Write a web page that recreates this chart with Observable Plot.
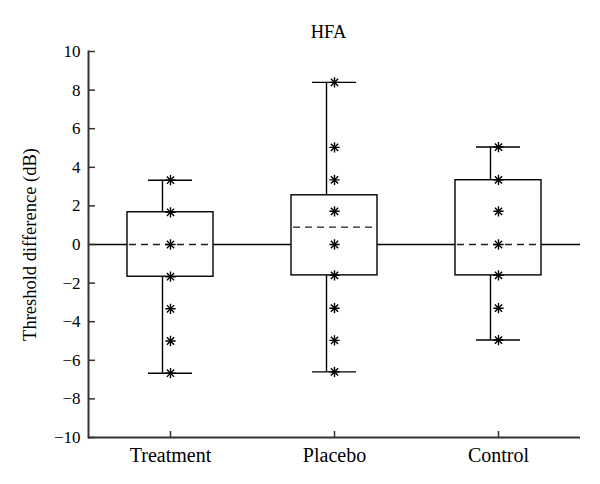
<!DOCTYPE html>
<html><head><meta charset="utf-8">
<script src="https://cdn.jsdelivr.net/npm/d3@7"></script>
<script src="https://cdn.jsdelivr.net/npm/@observablehq/plot@0.6"></script>
<style>body{margin:0;background:#fff}</style>
</head><body><div id="chart"></div>
<script>
const groups = ["Treatment", "Placebo", "Control"];
const q1 = [-1.67, -1.6, -1.6];
const q3 = [1.67, 2.55, 3.33];
const medians = [0, 0.9, 0];
const whiskerLow = [-6.67, -6.6, -4.95];
const whiskerHigh = [3.33, 8.4, 5.05];
const treatmentPts = [3.33, 1.67, 0, -1.67, -3.33, -5, -6.67];
const placeboPts = [8.4, 5.03, 3.35, 1.72, 0, -1.6, -3.3, -4.97, -6.6];
const controlPts = [5.05, 3.35, 1.72, 0, -1.6, -3.3, -4.95];
const yTicks = [-10, -8, -6, -4, -2, 0, 2, 4, 6, 8, 10];

const boxes = groups.map((g, i) => ({group: g, q1: q1[i], q3: q3[i], median: medians[i], lo: whiskerLow[i], hi: whiskerHigh[i]}));
const points = [
  ...treatmentPts.map(v => ({group: "Treatment", v})),
  ...placeboPts.map(v => ({group: "Placebo", v})),
  ...controlPts.map(v => ({group: "Control", v}))
];

const font = "'Liberation Serif', 'DejaVu Serif', serif";
const sw = 1.4;
const chart = Plot.plot({
  width: 600, height: 484,
  marginLeft: 88, marginRight: 20, marginTop: 51, marginBottom: 47,
  style: {fontFamily: font, fontSize: "17px", color: "#000", background: "#fff"},
  x: {domain: groups, padding: 0, label: null},
  y: {domain: [-10, 10], label: null},
  marks: [
    Plot.ruleY([0], {stroke: "#000", strokeWidth: sw}),
    Plot.ruleX(boxes, {x: "group", y1: "q3", y2: "hi", dx: -8, strokeWidth: sw}),
    Plot.ruleX(boxes, {x: "group", y1: "lo", y2: "q1", dx: -8, strokeWidth: sw}),
    Plot.tickY(boxes, {x: "group", y: "hi", insetLeft: 60, insetRight: 60, strokeWidth: sw}),
    Plot.tickY(boxes, {x: "group", y: "lo", insetLeft: 60, insetRight: 60, strokeWidth: sw}),
    Plot.barY(boxes, {x: "group", y1: "q1", y2: "q3", fill: "white", stroke: "black", strokeWidth: sw, insetLeft: 39, insetRight: 39}),
    Plot.tickY(boxes, {x: "group", y: "median", insetLeft: 41, insetRight: 41, strokeDasharray: "7,5", strokeWidth: sw, stroke: "#222"}),
    Plot.dot(points, {x: "group", y: "v", symbol: "plus", r: 3.4, stroke: "black", strokeWidth: 1.4}),
    Plot.dot(points, {x: "group", y: "v", symbol: "times", r: 3.4, stroke: "black", strokeWidth: 1.4}),
    Plot.axisY({ticks: yTicks, tickSize: -7, tickPadding: 15, label: null, stroke: "#333", strokeWidth: 1.5, fontSize: 17}),
    Plot.axisX({tickSize: -6, tickPadding: 16, label: null, stroke: "#333", strokeWidth: 1.5, fontSize: 20}),
    Plot.ruleY([-10], {stroke: "#333", strokeWidth: 2}),
    Plot.frame({anchor: "left", stroke: "#333", strokeWidth: 2}),
    Plot.text(["HFA"], {frameAnchor: "top", dy: -27, dx: -6, fontSize: 18.5}),
    Plot.text(["Threshold difference (dB)"], {frameAnchor: "left", textAnchor: "middle", rotate: -90, dx: -58, fontSize: 18.5})
  ]
});
document.getElementById("chart").appendChild(chart);
</script>
</body></html>
